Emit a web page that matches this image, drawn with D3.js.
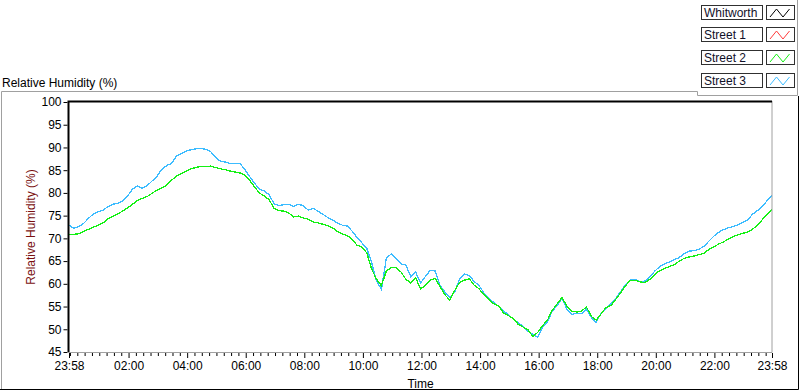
<!DOCTYPE html>
<html lang="en">
<head>
<meta charset="UTF-8">
<title>Relative Humidity</title>
<script src="https://d3js.org/d3.v7.min.js"></script>
<style>
    body { margin: 0; background: #fff; }
    svg { display: block; font-family: "Liberation Sans", Arial, sans-serif; }
    .tick text { font-size: 12px; fill: #000; }
</style>
</head>
<body>
<script>
    // ---- data ----
    const seriesNames = ["Whitworth", "Street 1", "Street 2", "Street 3"]
    const seriesColors = ["#000000", "#ff3c3c", "#14f014", "#3cbcff"]

    // one sample every 10 minutes starting at 23:58
    const sampleStep = 10
    const sampleMinutes = d3.range(0, 1441, sampleStep)

    const whitworth = []   // no data shown
    const street1 = []     // no data shown
    const street2 = [
        70.9, 70.9, 71.0, 71.5, 72.0, 72.5, 72.9, 73.4, 74.3, 74.9,
        75.4, 76.0, 76.7, 77.5, 78.3, 78.8, 79.2, 79.9, 80.6, 81.1,
        81.7, 82.8, 83.7, 84.3, 84.8, 85.3, 85.6, 85.8, 85.8, 85.9,
        85.6, 85.3, 85.1, 84.8, 84.6, 84.4, 83.9, 82.8, 81.3, 80.0,
        79.3, 78.5, 76.6, 76.1, 76.0, 75.6, 74.7, 74.9, 74.5, 74.2,
        73.6, 73.4, 73.1, 72.8, 72.3, 71.5, 71.0, 70.6, 69.8, 68.5,
        68.1, 66.8, 63.2, 61.0, 59.6, 62.8, 63.6, 63.5, 62.6, 61.0,
        60.2, 61.4, 58.9, 59.6, 60.8, 61.2, 59.4, 57.6, 56.4, 58.5,
        60.3, 60.8, 61.1, 59.7, 58.9, 57.6, 56.6, 55.6, 55.2, 53.6,
        53.0, 52.4, 51.1, 50.5, 49.9, 48.4, 49.3, 50.8, 52.0, 54.2,
        55.6, 57.0, 55.0, 54.0, 53.8, 54.0, 54.9, 52.8, 52.0, 53.4,
        54.8, 55.2, 56.6, 58.0, 59.6, 60.8, 60.8, 60.4, 60.3, 61.0,
        62.1, 62.9, 63.4, 63.8, 64.2, 65.0, 65.6, 65.9, 66.1, 66.4,
        66.7, 67.5, 68.1, 68.7, 69.2, 69.8, 70.4, 70.8, 71.1, 71.4,
        72.0, 72.9, 74.1, 75.3, 76.4
    ]
    const street3 = [
        72.9, 72.2, 72.6, 73.3, 74.4, 75.4, 75.9, 76.2, 77.0, 77.5,
        77.7, 78.2, 79.3, 80.8, 81.5, 81.0, 81.6, 82.6, 83.6, 85.2,
        86.0, 86.5, 88.1, 88.7, 89.2, 89.5, 89.7, 89.8, 89.6, 89.1,
        87.8, 87.0, 86.8, 86.5, 86.5, 86.5, 85.2, 83.6, 82.1, 80.9,
        80.4, 79.6, 77.6, 77.2, 77.4, 77.5, 77.0, 77.5, 77.2, 76.2,
        76.6, 76.0, 75.3, 74.6, 74.0, 73.4, 72.9, 72.7, 71.6, 70.2,
        69.0, 67.8, 64.6, 60.6, 58.8, 65.6, 66.6, 65.6, 64.4, 64.1,
        61.6, 62.6, 60.2, 61.6, 63.0, 62.8, 59.6, 58.2, 57.0, 58.2,
        61.0, 62.2, 61.8, 60.5, 59.6, 58.0, 56.8, 55.9, 55.0, 54.0,
        53.3, 52.2, 51.5, 50.6, 49.6, 48.9, 48.2, 50.4, 51.6, 54.0,
        55.2, 56.8, 54.4, 53.2, 53.6, 53.4, 54.4, 52.6, 51.5, 53.6,
        54.6, 55.6, 56.8, 58.3, 59.8, 60.9, 61.0, 60.5, 60.6, 61.6,
        62.8, 63.8, 64.4, 64.8, 65.3, 65.8, 66.6, 67.2, 67.3, 67.6,
        68.2, 69.3, 70.4, 71.3, 71.9, 72.3, 72.6, 73.0, 73.5, 74.0,
        75.3, 76.1, 77.0, 78.3, 79.5
    ]

    const yTicks = [45, 50, 55, 60, 65, 70, 75, 80, 85, 90, 95, 100]
    const xTickLabels = ["23:58", "02:00", "04:00", "06:00", "08:00", "10:00", "12:00",
                         "14:00", "16:00", "18:00", "20:00", "22:00", "23:58"]
    const xTickMinutes = [0, 122, 242, 362, 482, 602, 722, 842, 962, 1082, 1202, 1322, 1440]

    // ---- layout ----
    const W = 800, H = 392
    const plot = {left: 69, right: 772, top: 102, bottom: 352}
    const startTime = new Date(2000, 0, 1, 23, 58)
    const toDate = m => new Date(startTime.getTime() + m * 60000)

    const svg = d3.select("body").append("svg")
                  .attr("width", W).attr("height", H)

    const xScale = d3.scaleTime()
                     .domain([toDate(0), toDate(1440)])
                     .range([plot.left, plot.right])
    const yScale = d3.scaleLinear()
                     .domain([45, 100])
                     .range([plot.bottom, plot.top])

    // outer frame (sunken look)
    svg.append("path").attr("d", "M1.5,390 V91.5 H697.5 V95.5 H797.5 V0")
       .attr("fill", "none").attr("stroke", "#a0a0a0")
    svg.append("path").attr("d", "M0,389.5 H798.5 V96")
       .attr("fill", "none").attr("stroke", "#000")

    // graph title
    svg.append("text").attr("x", 2).attr("y", 87)
       .attr("font-size", 12).text("Relative Humidity (%)")

    // plot lines (aliased, like the original instrument display)
    const seriesData = [whitworth, street1, street2, street3]
    const lineGen = d3.line()
                      .x((d, i) => xScale(toDate(sampleMinutes[i])))
                      .y(d => yScale(d))
    const drawOrder = [0, 1, 3, 2]
    const plotG = svg.append("g")
    drawOrder.forEach(s => {
        if (!seriesData[s].length) return
        plotG.append("path")
             .attr("d", lineGen(seriesData[s]))
             .attr("fill", "none")
             .attr("stroke", seriesColors[s])
             .attr("stroke-width", 1.3)
             .attr("shape-rendering", "crispEdges")
    })

    // plot borders: dark top/left, light bottom/right
    svg.append("path").attr("d", `M${plot.right},${plot.bottom + 0.5} V${plot.top - 1}`)
       .attr("stroke", "#a0a0a0").attr("fill", "none")
    svg.append("path").attr("d", `M${plot.left - 1},${plot.bottom + 0.5} H${plot.right}`)
       .attr("stroke", "#a0a0a0").attr("fill", "none")
    svg.append("path").attr("d", `M${plot.left - 0.5},${plot.bottom} V${plot.top - 0.5} H${plot.right}`)
       .attr("stroke", "#000").attr("stroke-width", 2).attr("fill", "none")

    // y axis
    const yAxis = d3.axisLeft(yScale).tickValues(yTicks).tickSize(4).tickPadding(2)
    svg.append("g").attr("transform", `translate(${plot.left - 1.5},0)`)
       .call(yAxis)
       .call(g => g.select(".domain").remove())

    // x axis: minor ticks every 15 minutes, majors with labels
    const minorMinutes = d3.range(2, 1440, 15).filter(m => !xTickMinutes.includes(m))
    svg.append("g").attr("transform", `translate(0,${plot.bottom + 1})`)
       .call(d3.axisBottom(xScale).tickValues(minorMinutes.map(toDate)).tickSize(3).tickFormat(""))
       .call(g => g.select(".domain").remove())
    svg.append("g").attr("transform", `translate(0,${plot.bottom + 1})`)
       .call(d3.axisBottom(xScale)
               .tickValues(xTickMinutes.map(toDate))
               .tickSize(5).tickPadding(3)
               .tickFormat((d, i) => xTickLabels[i]))
       .call(g => g.select(".domain").remove())
    svg.selectAll(".tick line").attr("stroke", "#000")

    // axis titles
    svg.append("text").attr("x", (plot.left + plot.right) / 2).attr("y", 388)
       .attr("text-anchor", "middle").attr("font-size", 12).text("Time")
    svg.append("text")
       .attr("transform", `translate(35,${(plot.top + plot.bottom) / 2}) rotate(-90)`)
       .attr("text-anchor", "middle").attr("font-size", 12).attr("fill", "#7a1010")
       .text("Relative Humidity (%)")

    // legend
    const legend = svg.append("g")
    seriesNames.forEach((name, i) => {
        const y0 = 4.5 + i * 22.7
        const row = legend.append("g").attr("transform", `translate(0,${Math.round(y0)})`)
        row.append("rect").attr("x", 701.5).attr("y", 0.5).attr("width", 61).attr("height", 14)
           .attr("fill", "#fff").attr("stroke", "#303030")
        row.append("text").attr("x", 704).attr("y", 12)
           .attr("font-size", 12).attr("fill", "#101028").text(name)
        row.append("rect").attr("x", 766.5).attr("y", 0.5).attr("width", 28).attr("height", 14)
           .attr("fill", "#fff").attr("stroke", "#303030")
        row.append("path").attr("d", "M770,12 L776.5,4 L783,12 L789.5,4")
           .attr("fill", "none").attr("stroke", seriesColors[i])
    })
</script>
</body>
</html>
